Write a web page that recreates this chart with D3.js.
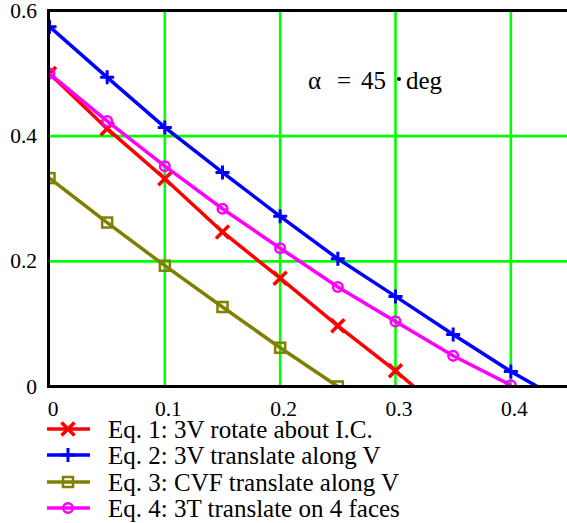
<!DOCTYPE html>
<html><head><meta charset="utf-8">
<script src="https://cdn.jsdelivr.net/npm/d3@7"></script>
<style>body{margin:0;background:#fff}svg{display:block}</style>
</head><body>
<svg id="c" width="567" height="523"></svg>
<script>
const xTicks = [0, 0.1, 0.2, 0.3, 0.4];
const yTicks = [0, 0.2, 0.4, 0.6];
const xGrid = [0, 0.05, 0.1, 0.15, 0.2, 0.25, 0.3, 0.35, 0.4];
const eq1 = [0.500, 0.412, 0.332, 0.247, 0.173, 0.097, 0.025];
const eq2 = [0.575, 0.494, 0.414, 0.342, 0.272, 0.204, 0.144, 0.083, 0.024];
const eq3 = [0.333, 0.262, 0.193, 0.127, 0.062, 0.000];
const eq4 = [0.500, 0.424, 0.352, 0.284, 0.221, 0.159, 0.104, 0.049, 0.002];
const xIntercepts = [0.316, 0.423, 0.25, 0.4];
const labels = ["Eq. 1: 3V rotate about I.C.", "Eq. 2: 3V translate along V", "Eq. 3: CVF translate along V", "Eq. 4: 3T translate on 4 faces"];
const colors = ["#ff0000", "#0000ff", "#808000", "#ff00ff"];
const markers = ["x", "plus", "square", "circle"];

const svg = d3.select("#c");
const x = d3.scaleLinear().domain([0, 0.45]).range([49.5, 568.5]);
const y = d3.scaleLinear().domain([0, 0.6]).range([386.5, 11]);
const L = 49.5, T = 11, B = 386.5, R = 568.5;
const FONT = "'Liberation Serif'";

svg.append("rect").attr("width", 567).attr("height", 523).attr("fill", "#fff");
svg.append("clipPath").attr("id", "clip").append("rect")
  .attr("x", L).attr("y", T).attr("width", R - L).attr("height", B - T);

// grid
const g = svg.append("g");
g.selectAll(".vx").data(xTicks.filter(d => d > 0)).join("line")
  .attr("x1", d => x(d)).attr("x2", d => x(d)).attr("y1", T).attr("y2", B)
  .attr("stroke", "#00ff00").attr("stroke-width", 2.6);
g.selectAll(".hy").data(yTicks.filter(d => d > 0 && d < 0.6)).join("line")
  .attr("x1", L).attr("x2", R).attr("y1", d => y(d)).attr("y2", d => y(d))
  .attr("stroke", "#00ff00").attr("stroke-width", 2.6);

function drawMarker(sel, type, color, cx, cy) {
  if (type === "x") {
    const s = 6.5;
    sel.append("path").attr("d", `M${cx - s},${cy - s}L${cx + s},${cy + s}M${cx - s},${cy + s}L${cx + s},${cy - s}`)
      .attr("stroke", color).attr("stroke-width", 3.5).attr("fill", "none");
  } else if (type === "plus") {
    const s = 7;
    sel.append("path").attr("d", `M${cx - s},${cy}L${cx + s},${cy}M${cx},${cy - s}L${cx},${cy + s}`)
      .attr("stroke", color).attr("stroke-width", 3).attr("fill", "none");
  } else if (type === "square") {
    const s = 5;
    sel.append("rect").attr("x", cx - s).attr("y", cy - s).attr("width", 2 * s).attr("height", 2 * s)
      .attr("stroke", color).attr("stroke-width", 2.5).attr("fill", "none");
  } else {
    sel.append("circle").attr("cx", cx).attr("cy", cy).attr("r", 4.8)
      .attr("stroke", color).attr("stroke-width", 2.5).attr("fill", "none");
  }
}

const plot = svg.append("g").attr("clip-path", "url(#clip)");
const series = [eq1, eq2, eq3, eq4];
const line = d3.line().x(d => x(d[0])).y(d => y(d[1]));
series.forEach((vals, i) => {
  const pts = vals.map((v, j) => [xGrid[j], v]);
  const lineNodes = pts.slice();
  if (Math.abs(xGrid[vals.length - 1] - xIntercepts[i]) > 1e-9) lineNodes.push([xIntercepts[i], 0]);
  plot.append("path").datum(lineNodes).attr("d", line)
    .attr("stroke", colors[i]).attr("stroke-width", 3.5).attr("fill", "none");
  const mg = plot.append("g");
  pts.forEach(p => drawMarker(mg, markers[i], colors[i], x(p[0]), y(p[1])));
});

// axes frame
svg.append("line").attr("x1", L).attr("x2", 567).attr("y1", T - 0.5).attr("y2", T - 0.5).attr("stroke", "#000").attr("stroke-width", 3);
svg.append("line").attr("x1", L - 1).attr("x2", L - 1).attr("y1", T - 2).attr("y2", B + 1.5).attr("stroke", "#000").attr("stroke-width", 3);
svg.append("line").attr("x1", L - 2.5).attr("x2", 567).attr("y1", B).attr("y2", B).attr("stroke", "#000").attr("stroke-width", 3);

// tick labels
svg.selectAll(".yl").data(yTicks).join("text")
  .style("font-family", FONT)
  .attr("x", 37).attr("y", d => y(d) + 7).attr("text-anchor", "end")
  .attr("font-size", 21.5).text(d => d === 0 ? "0" : d3.format(".1f")(d));
svg.selectAll(".xl").data(xTicks).join("text")
  .style("font-family", FONT)
  .attr("x", d => x(d) + 3.5).attr("y", 415.5).attr("text-anchor", "middle")
  .attr("font-size", 21.5).text(d => d === 0 ? "0" : d3.format(".1f")(d));

// annotation
const ann = svg.append("g");
const annText = (tx, s) => ann.append("text").style("font-family", FONT).attr("font-size", 25).attr("x", tx).attr("y", 89).text(s);
annText(308, "α");
annText(337, "=");
annText(361, "45");
ann.append("circle").attr("cx", 399).attr("cy", 79).attr("r", 2).attr("fill", "#000");
annText(406, "deg");

// legend
const legY = [429, 455, 482, 508];
labels.forEach((lab, i) => {
  const lg = svg.append("g");
  lg.append("line").attr("x1", 47).attr("x2", 90).attr("y1", legY[i]).attr("y2", legY[i])
    .attr("stroke", colors[i]).attr("stroke-width", 3.5);
  drawMarker(lg, markers[i], colors[i], 68, legY[i]);
  lg.append("text").style("font-family", FONT).attr("x", 108).attr("y", legY[i] + 8.5).attr("font-size", 25).text(lab);
});
</script>
</body></html>
